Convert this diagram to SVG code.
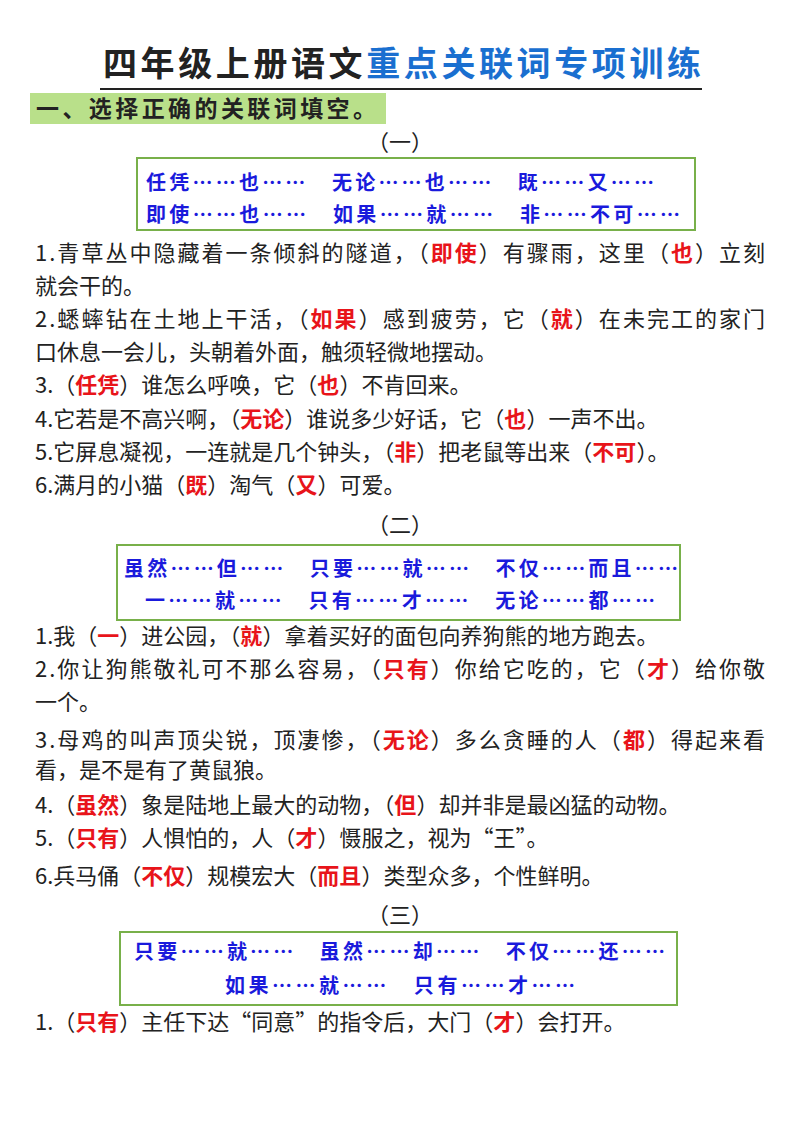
<svg xmlns="http://www.w3.org/2000/svg" width="800" height="1132" viewBox="0 0 800 1132">
<style>
text{font-family:"Noto Sans CJK SC","Noto Sans",sans-serif;fill:#222}
.t{font-size:22px}
.r{fill:#e8141a;font-weight:bold}
.k{fill:#1a1adc;font-weight:bold;font-size:20px}
.box{fill:none;stroke:#78b04a;stroke-width:2}
.h{font-size:22px;text-anchor:middle}
</style>
<rect width="800" height="1132" fill="#fff"/>
<g id="title">
<text x="103" y="76" textLength="598" font-size="34" font-weight="bold" style="font-family:'Noto Sans CJK SC',serif">四年级上册语文<tspan fill="#1a6fd0">重点关联词专项训练</tspan></text>
<line x1="100" y1="89" x2="702" y2="89" stroke="#222" stroke-width="2"/>
</g>
<g id="section">
<rect x="30" y="93" width="356" height="31" fill="#b9e08a"/>
<text x="36" y="117" font-size="23" font-weight="bold" textLength="340">一、选择正确的关联词填空。</text>
</g>
<g id="part1">
<text class="h" x="400" y="150">（一）</text>
<rect class="box" x="137" y="158" width="558" height="72"/>
<text class="k" x="146" y="190" textLength="508" xml:space="preserve">任凭……也……   无论……也……   既……又……</text>
<text class="k" x="146" y="222" textLength="534" xml:space="preserve">即使……也……   如果……就……   非……不可……</text>
<text class="t" x="35" y="261" textLength="730">1.青草丛中隐藏着一条倾斜的隧道，（<tspan class="r">即使</tspan>）有骤雨，这里（<tspan class="r">也</tspan>）立刻</text>
<text class="t" x="35" y="294">就会干的。</text>
<text class="t" x="35" y="327" textLength="730">2.蟋蟀钻在土地上干活，（<tspan class="r">如果</tspan>）感到疲劳，它（<tspan class="r">就</tspan>）在未完工的家门</text>
<text class="t" x="35" y="360">口休息一会儿，头朝着外面，触须轻微地摆动。</text>
<text class="t" x="35" y="393">3.（<tspan class="r">任凭</tspan>）谁怎么呼唤，它（<tspan class="r">也</tspan>）不肯回来。</text>
<text class="t" x="35" y="427">4.它若是不高兴啊，（<tspan class="r">无论</tspan>）谁说多少好话，它（<tspan class="r">也</tspan>）一声不出。</text>
<text class="t" x="35" y="460">5.它屏息凝视，一连就是几个钟头，（<tspan class="r">非</tspan>）把老鼠等出来（<tspan class="r">不可</tspan>）。</text>
<text class="t" x="35" y="493">6.满月的小猫（<tspan class="r">既</tspan>）淘气（<tspan class="r">又</tspan>）可爱。</text>
</g>
<g id="part2">
<text class="h" x="400" y="533">（二）</text>
<rect class="box" x="117" y="545" width="563" height="75"/>
<text class="k" x="124" y="576" textLength="554" xml:space="preserve">虽然……但……   只要……就……   不仅……而且……</text>
<text class="k" x="145" y="608" textLength="510" xml:space="preserve">一……就……   只有……才……   无论……都……</text>
<text class="t" x="35" y="644">1.我（<tspan class="r">一</tspan>）进公园，（<tspan class="r">就</tspan>）拿着买好的面包向养狗熊的地方跑去。</text>
<text class="t" x="35" y="677" textLength="730">2.你让狗熊敬礼可不那么容易，（<tspan class="r">只有</tspan>）你给它吃的，它（<tspan class="r">才</tspan>）给你敬</text>
<text class="t" x="35" y="710">一个。</text>
<text class="t" x="35" y="748" textLength="730">3.母鸡的叫声顶尖锐，顶凄惨，（<tspan class="r">无论</tspan>）多么贪睡的人（<tspan class="r">都</tspan>）得起来看</text>
<text class="t" x="35" y="778">看，是不是有了黄鼠狼。</text>
<text class="t" x="35" y="813">4.（<tspan class="r">虽然</tspan>）象是陆地上最大的动物，（<tspan class="r">但</tspan>）却并非是最凶猛的动物。</text>
<text class="t" x="35" y="846">5.（<tspan class="r">只有</tspan>）人惧怕的，人（<tspan class="r">才</tspan>）慑服之，视为“王”。</text>
<text class="t" x="35" y="884">6.兵马俑（<tspan class="r">不仅</tspan>）规模宏大（<tspan class="r">而且</tspan>）类型众多，个性鲜明。</text>
</g>
<g id="part3">
<text class="h" x="400" y="923">（三）</text>
<rect class="box" x="120" y="932" width="557" height="73"/>
<text class="k" x="134" y="959" textLength="531" xml:space="preserve">只要……就……   虽然……却……   不仅……还……</text>
<text class="k" x="225" y="993" textLength="350" xml:space="preserve">如果……就……   只有……才……</text>
<text class="t" x="35" y="1030">1.（<tspan class="r">只有</tspan>）主任下达“同意”的指令后，大门（<tspan class="r">才</tspan>）会打开。</text>
</g>
</svg>
